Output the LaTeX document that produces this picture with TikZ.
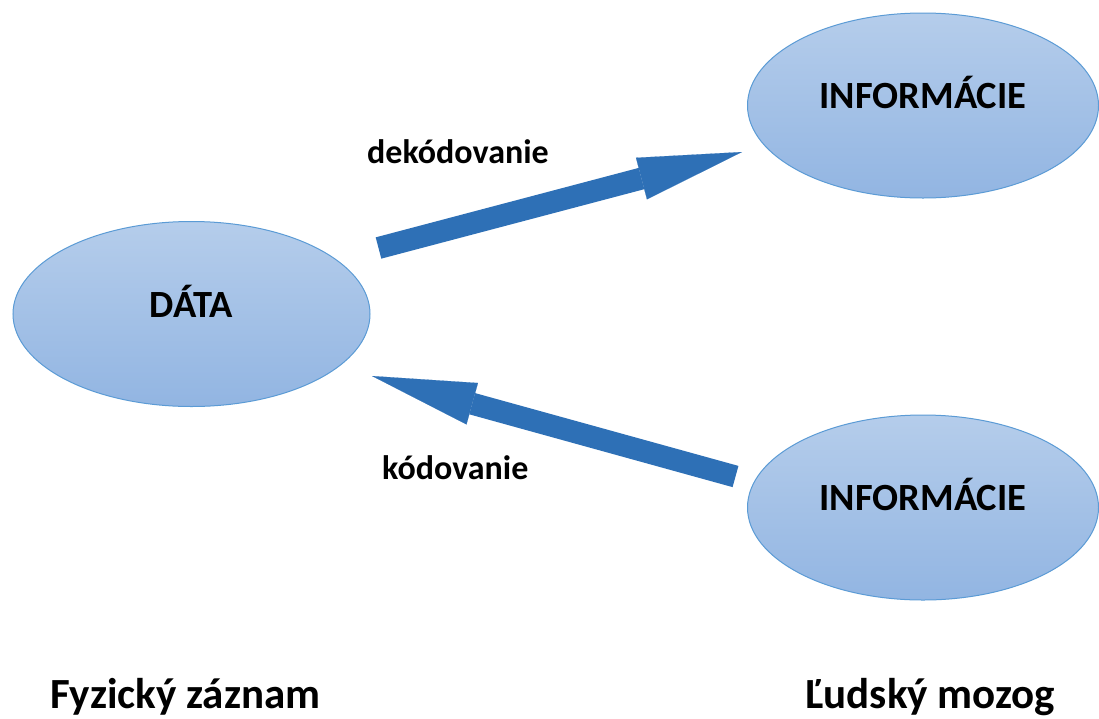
\documentclass[tikz,border=0pt]{standalone}
\usepackage{fontspec}
\setmainfont{Carlito}
\usetikzlibrary{shapes.geometric,arrows.meta}
\definecolor{ellline}{RGB}{91,155,213}
\definecolor{elltop}{RGB}{181,205,235}
\definecolor{ellbot}{RGB}{146,181,226}
\definecolor{arrfill}{RGB}{46,112,182}
\begin{document}
\begin{tikzpicture}[x=1pt,y=-1pt,
  blob/.style={ellipse, draw=ellline, line width=1pt, top color=elltop, bottom color=ellbot,
    minimum width=#1, minimum height=185pt, inner sep=0pt,
    font=\fontsize{38.5}{46}\selectfont\bfseries, text height=9pt, text depth=3pt},
  lbl/.style={anchor=base west, inner sep=0pt, font=\fontsize{34}{40}\selectfont\bfseries},
  bottomcaption/.style={anchor=base west, inner sep=0pt, font=\fontsize{43}{50}\selectfont\bfseries},
  blockarrow/.style={draw=arrfill, line width=22pt,
    -{Triangle[length=104pt, width=43pt, line width=0.1pt, fill=arrfill]}}]
\useasboundingbox (0,0) rectangle (1099,718);
\fill[white] (0,0) rectangle (1099,718);
\node[blob=357pt] (data) at (191.5,314) {DÁTA};
\node[blob=351pt] (info1) at (923,105.5) {INFORMÁCIE};
\node[blob=351pt] (info2) at (923,507.5) {INFORMÁCIE};
\coordinate (decS) at (378.5,248);
\coordinate (decE) at (742,152);
\coordinate (codS) at (735.5,476.5);
\coordinate (codE) at (372,376);
\draw[blockarrow] (decS) -- (decE);
\draw[blockarrow] (codS) -- (codE);
\node[lbl] (dec) at (367,163) {dekódovanie};
\node[lbl] (cod) at (382,479) {kódovanie};
\node[bottomcaption] (fyz) at (50,708) {Fyzický záznam};
\node[bottomcaption] (mozog) at (805,708) {Ľudský mozog};
\end{tikzpicture}
\end{document}
